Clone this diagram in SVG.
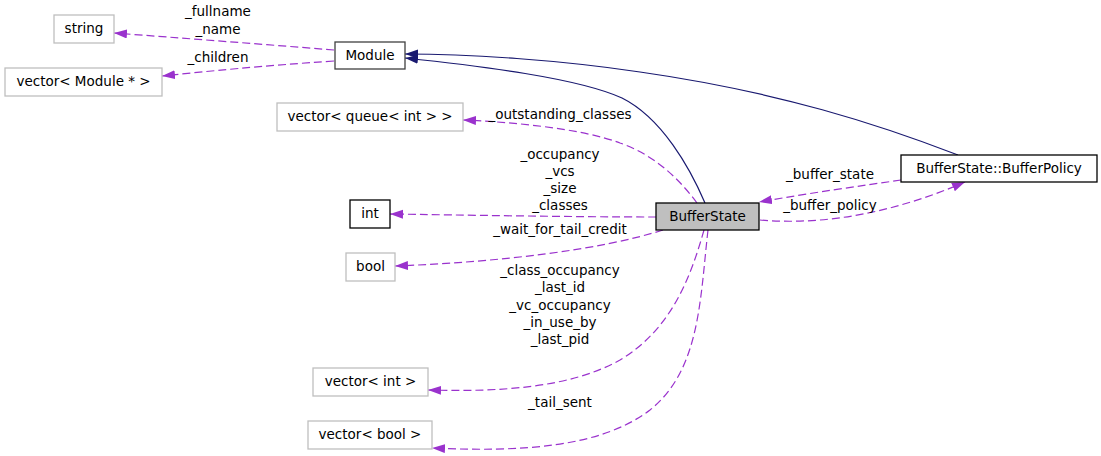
<svg xmlns="http://www.w3.org/2000/svg" width="1101" height="456" viewBox="0 0 1101 456">
<style>
text{font-family:"DejaVu Sans","Liberation Sans",sans-serif;font-size:13.5px;fill:#000}
.lbl{text-anchor:middle}
.nt{text-anchor:middle}
.g rect{fill:#fff;stroke:#bfbfbf;stroke-width:1.3}
.b rect{fill:#fff;stroke:#000;stroke-width:1.3}
.d{fill:none;stroke:#9a32cd;stroke-width:1.2;stroke-dasharray:8,4}
.n{fill:none;stroke:#191970;stroke-width:1.2}
</style>
<defs>
<marker id="ap" markerUnits="userSpaceOnUse" markerWidth="14" markerHeight="10" refX="13" refY="4.5" orient="auto"><path d="M0,0 L13,4.5 L0,9 z" fill="#9a32cd"/></marker>
<marker id="an" markerUnits="userSpaceOnUse" markerWidth="14" markerHeight="10" refX="13" refY="4.5" orient="auto"><path d="M0,0 L13,4.5 L0,9 z" fill="#191970"/></marker>
</defs>
<rect width="1101" height="456" fill="#fff"/>
<g id="connectors">
<path class="n" d="M705,203 C690,168 662,118 622,98 C578,78 480,66 405,58" marker-end="url(#an)"/>
<path class="n" d="M958,155 C880,125 780,92 640,72 C560,60 470,54 405,54" marker-end="url(#an)"/>
<path class="d" d="M334,50 C260,44 180,38 114,33" marker-end="url(#ap)"/>
<path class="d" d="M334,61 C260,66 210,71 162,76" marker-end="url(#ap)"/>
<path class="d" d="M697,203 C680,180 655,155 620,143 C580,128 510,122 463,120" marker-end="url(#ap)"/>
<path class="d" d="M656,217 C570,217 460,215 390,214" marker-end="url(#ap)"/>
<path class="d" d="M663,230 C600,250 500,262 395,266" marker-end="url(#ap)"/>
<path class="d" d="M704,230 C690,280 670,330 620,360 C570,388 500,392 428,390" marker-end="url(#ap)"/>
<path class="d" d="M708,230 C700,300 700,370 650,410 C600,448 520,452 432,448" marker-end="url(#ap)"/>
<path class="d" d="M901,180 C860,186 810,193 759,202" marker-end="url(#ap)"/>
<path class="d" d="M760,220 C830,226 900,210 965,182" marker-end="url(#ap)"/>
<text class="lbl" x="218" y="16">_fullname</text>
<text class="lbl" x="218" y="34">_name</text>
<text class="lbl" x="218" y="62">_children</text>
<text class="lbl" x="560" y="119">_outstanding_classes</text>
<text class="lbl" x="560" y="159">_occupancy</text>
<text class="lbl" x="560" y="176">_vcs</text>
<text class="lbl" x="560" y="193">_size</text>
<text class="lbl" x="560" y="210">_classes</text>
<text class="lbl" x="560" y="234">_wait_for_tail_credit</text>
<text class="lbl" x="560" y="275">_class_occupancy</text>
<text class="lbl" x="560" y="292">_last_id</text>
<text class="lbl" x="560" y="310">_vc_occupancy</text>
<text class="lbl" x="560" y="327">_in_use_by</text>
<text class="lbl" x="560" y="344">_last_pid</text>
<text class="lbl" x="560" y="407">_tail_sent</text>
<text class="lbl" x="830" y="179">_buffer_state</text>
<text class="lbl" x="830" y="210">_buffer_policy</text>
</g>
<g id="string" class="g"><rect x="54" y="15" width="60" height="28"/><text class="nt" x="84" y="33">string</text></g>
<g id="vector_module" class="g"><rect x="5" y="68" width="157" height="28"/><text class="nt" x="83.5" y="86">vector&lt; Module * &gt;</text></g>
<g id="Module" class="b"><rect x="335" y="42" width="70" height="27" style="stroke:#404040"/><text class="nt" x="370" y="60">Module</text></g>
<g id="vector_queue" class="g"><rect x="277" y="103" width="186" height="28"/><text class="nt" x="370" y="121">vector&lt; queue&lt; int &gt; &gt;</text></g>
<g id="int" class="b"><rect x="350" y="200" width="40" height="28"/><text class="nt" x="370" y="218">int</text></g>
<g id="bool" class="g"><rect x="346" y="253" width="49" height="28"/><text class="nt" x="370.5" y="271">bool</text></g>
<g id="vector_int" class="g"><rect x="313" y="368" width="115" height="28"/><text class="nt" x="370.5" y="386">vector&lt; int &gt;</text></g>
<g id="vector_bool" class="g"><rect x="308" y="421" width="124" height="28"/><text class="nt" x="370" y="439">vector&lt; bool &gt;</text></g>
<g id="BufferState"><rect x="656" y="203" width="103" height="27" fill="#bfbfbf" stroke="#000" stroke-width="1.3"/><text class="nt" x="707.5" y="221">BufferState</text></g>
<g id="BufferPolicy" class="b"><rect x="901" y="155" width="196" height="27"/><text class="nt" x="999" y="173">BufferState::BufferPolicy</text></g>
</svg>
